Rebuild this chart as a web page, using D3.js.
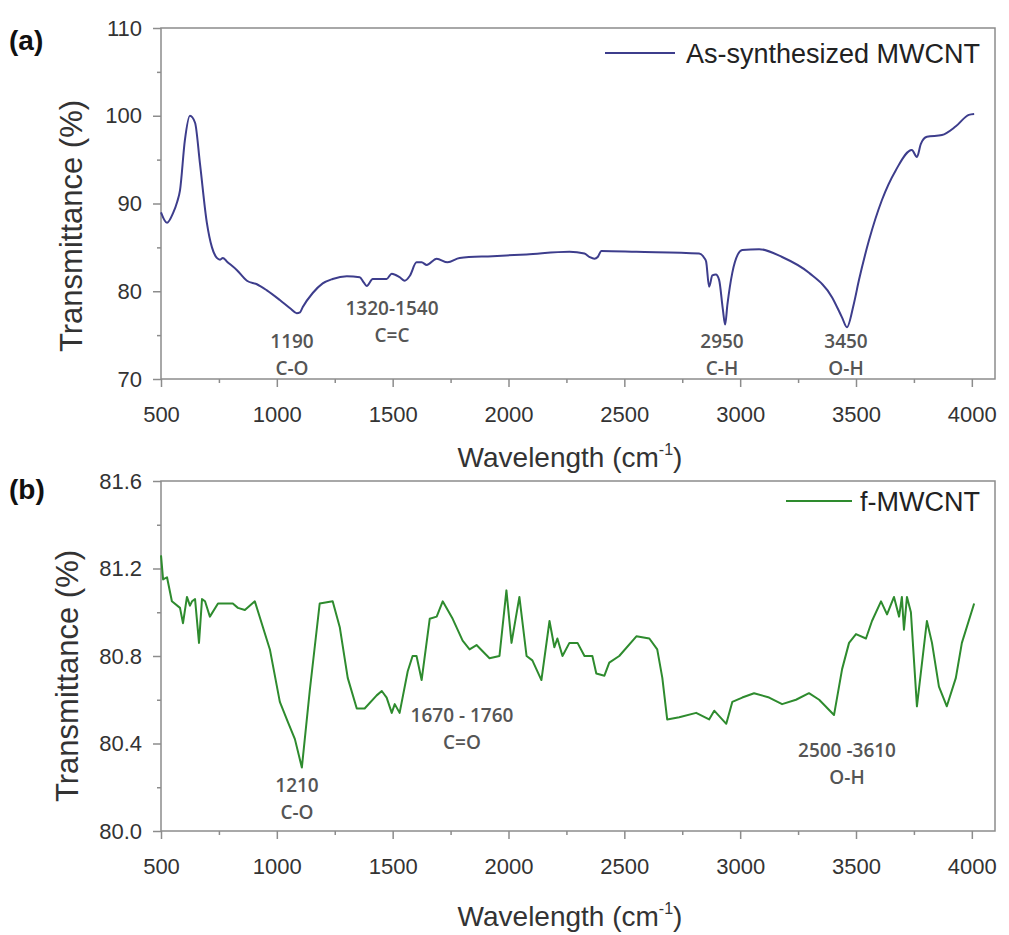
<!DOCTYPE html>
<html>
<head>
<meta charset="utf-8">
<script src="https://cdn.jsdelivr.net/npm/d3@7"></script>
<style>
  body { margin: 0; background: #fff; }
  text { font-family: "Liberation Sans", Arial, sans-serif; }
</style>
</head>
<body>
<div id="chart"></div>
<script>
// panel (a): as-synthesized MWCNT
const topWn = [500, 526, 552, 570, 582, 603, 625, 647, 668, 698, 720, 741, 755, 767, 784, 828, 871, 914, 957, 1013,
  1060, 1086, 1100, 1112, 1155, 1198, 1241, 1302, 1358, 1375, 1388, 1414, 1474, 1496, 1530, 1552, 1575, 1603, 1625, 1647,
  1690, 1737, 1789, 1931, 2078, 2263, 2328, 2350, 2371, 2385, 2401, 2552, 2823, 2845, 2853, 2866, 2880, 2895, 2909, 2925,
  2935, 2945, 2966, 2990, 3009, 3082, 3181, 3297, 3397, 3440, 3461, 3490, 3513, 3556, 3612, 3672, 3741, 3763, 3780, 3806,
  3871, 3931, 3987, 4010];
const topT = [89.0, 87.8, 88.9, 90.2, 91.5, 97.2, 100.0, 99.2, 94.6, 87.8, 85.0, 83.8, 83.6, 83.8, 83.4, 82.4, 81.2, 80.8, 80.1, 79.0,
  78.0, 77.5, 77.6, 78.2, 79.8, 80.9, 81.4, 81.7, 81.6, 81.0, 80.6, 81.4, 81.4, 82.0, 81.6, 81.2, 81.8, 83.3, 83.3, 83.0,
  83.7, 83.3, 83.8, 84.0, 84.2, 84.5, 84.3, 83.9, 83.7, 83.9, 84.6, 84.5, 84.3, 83.8, 83.4, 80.5, 81.8, 81.9, 81.3, 78.0,
  76.2, 78.5, 82.1, 84.2, 84.7, 84.8, 83.9, 82.1, 79.3, 77.0, 75.9, 78.5, 81.3, 85.8, 90.4, 93.8, 96.1, 95.3, 96.8, 97.6,
  97.8, 98.8, 100.1, 100.2];

// panel (b): f-MWCNT
const botWn = [500, 509, 526, 547, 582, 595, 612, 625, 634, 647, 664, 677, 690, 711, 746, 810, 832, 862, 905, 970,
  1013, 1047, 1078, 1108, 1142, 1185, 1241, 1272, 1306, 1345, 1379, 1431, 1453, 1474, 1496, 1509, 1530, 1565, 1586, 1603,
  1625, 1660, 1690, 1716, 1759, 1802, 1832, 1862, 1918, 1961, 1991, 2013, 2047, 2078, 2103, 2142, 2177, 2198, 2211, 2233,
  2263, 2298, 2328, 2362, 2379, 2414, 2435, 2478, 2552, 2608, 2642, 2664, 2685, 2737, 2810, 2866, 2888, 2940, 2966, 3009,
  3060, 3125, 3181, 3241, 3297, 3341, 3405, 3440, 3470, 3500, 3543, 3569, 3608, 3634, 3664, 3686, 3698, 3707, 3720, 3737,
  3763, 3806, 3828, 3858, 3892, 3931, 3957, 4010];
const botT = [81.26, 81.15, 81.16, 81.05, 81.02, 80.95, 81.07, 81.03, 81.05, 81.06, 80.86, 81.06, 81.05, 80.98, 81.04, 81.04, 81.02, 81.01, 81.05, 80.83,
  80.59, 80.50, 80.42, 80.29, 80.64, 81.04, 81.05, 80.93, 80.70, 80.56, 80.56, 80.62, 80.64, 80.61, 80.54, 80.58, 80.54, 80.73, 80.80, 80.80,
  80.69, 80.97, 80.98, 81.05, 80.97, 80.87, 80.83, 80.85, 80.79, 80.80, 81.10, 80.86, 81.07, 80.80, 80.78, 80.69, 80.96, 80.84, 80.88, 80.80,
  80.86, 80.86, 80.80, 80.80, 80.72, 80.71, 80.77, 80.80, 80.89, 80.88, 80.83, 80.70, 80.51, 80.52, 80.54, 80.51, 80.55, 80.49, 80.59, 80.61,
  80.63, 80.61, 80.58, 80.60, 80.63, 80.60, 80.53, 80.74, 80.86, 80.90, 80.88, 80.96, 81.05, 80.99, 81.07, 80.98, 81.07, 80.92, 81.07, 81.00,
  80.57, 80.96, 80.86, 80.66, 80.57, 80.70, 80.86, 81.04];

const xTicks = [500, 1000, 1500, 2000, 2500, 3000, 3500, 4000];
const xMinor = [750, 1250, 1750, 2250, 2750, 3250, 3750];
const topYTicks = [70, 80, 90, 100, 110];
const topYMinor = [75, 85, 95, 105];
const botYTicks = [80.0, 80.4, 80.8, 81.2, 81.6];
const botYMinor = [80.2, 80.6, 81.0, 81.4];

const topNotes = [
  { lines: ["1190", "C-O"], x: 292, y: 348 },
  { lines: ["1320-1540", "C=C"], x: 392, y: 315 },
  { lines: ["2950", "C-H"], x: 722, y: 348 },
  { lines: ["3450", "O-H"], x: 846, y: 348 }
];
const botNotes = [
  { lines: ["1210", "C-O"], x: 297, y: 792 },
  { lines: ["1670 - 1760", "C=O"], x: 462, y: 722 },
  { lines: ["2500 -3610", "O-H"], x: 847, y: 757 }
];

const W = 1009, H = 935;
const left = 161, right = 995;

const svg = d3.select("#chart").append("svg")
    .attr("width", W)
    .attr("height", H);

const x = d3.scaleLinear().domain([500, 4100]).range([left, right]);

function drawPanel(p) {
    const y = d3.scaleLinear().domain(p.yDomain).range([p.bottom, p.top]);
    const g = svg.append("g");

    // minor ticks
    g.append("g")
        .attr("transform", `translate(0,${p.bottom})`)
        .call(d3.axisBottom(x).tickValues(xMinor).tickSize(4).tickFormat(""))
        .call(a => a.select(".domain").remove());
    g.append("g")
        .attr("transform", `translate(${left},0)`)
        .call(d3.axisLeft(y).tickValues(p.yMinor).tickSize(4).tickFormat(""))
        .call(a => a.select(".domain").remove());

    // major ticks + labels
    const xa = g.append("g")
        .attr("transform", `translate(0,${p.bottom})`)
        .call(d3.axisBottom(x).tickValues(xTicks).tickSize(8).tickPadding(19).tickFormat(d3.format("d")));
    xa.select(".domain").remove();

    const ya = g.append("g")
        .attr("transform", `translate(${left},0)`)
        .call(d3.axisLeft(y).tickValues(p.yTicks).tickSize(8).tickPadding(11).tickFormat(p.yFormat));
    ya.select(".domain").remove();

    g.selectAll(".tick line").attr("stroke", "#8c8c8c").attr("stroke-width", 1.5);
    g.selectAll(".tick text")
        .attr("fill", "#333")
        .style("font-size", "22px");

    // frame
    g.append("rect")
        .attr("x", left).attr("y", p.top)
        .attr("width", right - left).attr("height", p.bottom - p.top)
        .attr("fill", "none")
        .attr("stroke", "#8c8c8c")
        .attr("stroke-width", 1.5);

    // spectrum
    const data = p.wn.map((w, i) => ({ w: w, t: p.t[i] }));
    g.append("path")
        .datum(data)
        .attr("fill", "none")
        .attr("stroke", p.color)
        .attr("stroke-width", 2)
        .attr("stroke-linejoin", "round")
        .attr("d", d3.line().curve(p.curve).x(d => x(d.w)).y(d => y(d.t)));

    // legend
    g.append("line")
        .attr("x1", p.legX1).attr("x2", p.legX2)
        .attr("y1", p.legY).attr("y2", p.legY)
        .attr("stroke", p.color).attr("stroke-width", 2);
    g.append("text")
        .attr("x", 980).attr("y", p.legY + 10)
        .attr("text-anchor", "end")
        .attr("fill", "#222")
        .style("font-size", "27px")
        .text(p.name);

    // peak notes
    p.notes.forEach(n => {
        const t = g.append("text")
            .attr("text-anchor", "middle")
            .attr("fill", "#555")
            .style("font-family", "'Open Sans', sans-serif")
            .style("font-weight", 600)
            .style("font-size", "19px");
        t.append("tspan").attr("x", n.x).attr("y", n.y).text(n.lines[0]);
        t.append("tspan").attr("x", n.x).attr("y", n.y + 27).text(n.lines[1]);
    });

    // axis titles
    const xt = g.append("text")
        .attr("x", 570).attr("y", p.xTitleY)
        .attr("text-anchor", "middle")
        .attr("fill", "#333")
        .style("font-size", "28px");
    xt.append("tspan").text("Wavelength (cm");
    xt.append("tspan").attr("dy", -12).style("font-size", "16px").text("-1");
    xt.append("tspan").attr("dy", 12).text(")");

    g.append("text")
        .attr("transform", `translate(${p.yTitleX},${p.yTitleY}) rotate(-90)`)
        .attr("text-anchor", "middle")
        .attr("fill", "#333")
        .style("font-size", "31px")
        .text("Transmittance (%)");

    // panel letter
    g.append("text")
        .attr("x", 9).attr("y", p.letterY)
        .attr("fill", "#111")
        .style("font-size", "28px")
        .style("font-weight", "bold")
        .text(p.letter);
}

drawPanel({
    top: 28, bottom: 379, yDomain: [70, 110],
    yTicks: topYTicks, yMinor: topYMinor, yFormat: d3.format("d"),
    wn: topWn, t: topT, color: "#3d3d8c", curve: d3.curveMonotoneX,
    name: "As-synthesized MWCNT", legX1: 605, legX2: 675, legY: 53,
    notes: topNotes, xTitleY: 467, yTitleX: 82, yTitleY: 226,
    letter: "(a)", letterY: 50
});

drawPanel({
    top: 481, bottom: 831, yDomain: [80, 81.6],
    yTicks: botYTicks, yMinor: botYMinor, yFormat: d3.format(".1f"),
    wn: botWn, t: botT, color: "#2e8b2e", curve: d3.curveLinear,
    name: "f-MWCNT", legX1: 786, legX2: 852, legY: 501,
    notes: botNotes, xTitleY: 926, yTitleX: 78, yTitleY: 676,
    letter: "(b)", letterY: 499
});
</script>
</body>
</html>
